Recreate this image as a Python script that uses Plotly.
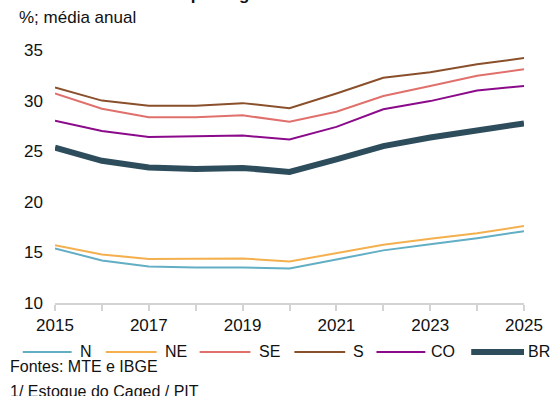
import plotly.graph_objects as go

# Annual averages, % (formal employment stock / working-age population)
years = list(range(2015, 2026))
regions = ["N", "NE", "SE", "S", "CO", "BR"]

n_vals = [15.4, 14.2, 13.6, 13.5, 13.5, 13.4, 14.3, 15.2, 15.8, 16.4, 17.1]
ne_vals = [15.7, 14.8, 14.35, 14.4, 14.4, 14.1, 14.9, 15.75, 16.35, 16.9, 17.6]
se_vals = [30.7, 29.2, 28.35, 28.35, 28.55, 27.9, 28.9, 30.45, 31.45, 32.45, 33.1]
s_vals = [31.3, 30.0, 29.5, 29.5, 29.75, 29.25, 30.7, 32.25, 32.8, 33.6, 34.2]
co_vals = [28.0, 27.0, 26.4, 26.5, 26.55, 26.15, 27.4, 29.15, 29.95, 31.0, 31.45]
br_vals = [25.35, 24.05, 23.4, 23.25, 23.35, 22.95, 24.2, 25.5, 26.35, 27.1, 27.75]

y_ticks = [10, 15, 20, 25, 30, 35]
x_ticks = [2015, 2017, 2019, 2021, 2023, 2025]

series = [n_vals, ne_vals, se_vals, s_vals, co_vals, br_vals]
colors = ["#62AEC5", "#F4B04E", "#E0706C", "#8A4F2B", "#8B0A8B", "#2E4D5C"]
widths = [2, 2, 2, 2, 2, 6]

W, H = 555, 396
L, R, T, B = 55, 20, 50, 93
plot_w = W - L - R
plot_h = H - T - B


def px_x(px):
    return (px - L) / plot_w


def px_y(py):
    return (H - B - py) / plot_h


FONT = "Liberation Sans, Arial, sans-serif"

fig = go.Figure()
for name, vals, col, w in zip(regions, series, colors, widths):
    fig.add_trace(go.Scatter(
        x=years, y=vals, mode="lines", name=name,
        line=dict(color=col, width=w), showlegend=False,
    ))

shapes = []
annotations = []

# legend row drawn below the axis: (line start, line end, label start) in px
legend_pos = [(22, 72, 79), (107, 159, 166), (203, 255, 262),
              (300, 352, 358), (384, 434, 438), (481, 535, 537)]
leg_y = 352
for name, col, w, (x0, x1, xt) in zip(regions, colors, widths, legend_pos):
    shapes.append(dict(type="line", xref="paper", yref="paper",
                       x0=px_x(x0), x1=px_x(x1), y0=px_y(leg_y), y1=px_y(leg_y),
                       line=dict(color=col, width=w)))
    annotations.append(dict(text=name, xref="paper", yref="paper",
                            x=px_x(xt), y=px_y(leg_y - 1), xanchor="left", yanchor="middle",
                            showarrow=False, font=dict(size=16, color="#111111", family=FONT)))

annotations += [
    dict(text="<b>Taxa de formalidade por região¹</b>", xref="paper", yref="paper",
         x=px_x(20), y=px_y(6), xanchor="left", yanchor="bottom", showarrow=False,
         font=dict(size=17, color="#111111", family=FONT)),
    dict(text="%; média anual", xref="paper", yref="paper",
         x=px_x(16), y=px_y(17), xanchor="left", yanchor="middle", showarrow=False,
         font=dict(size=17, color="#111111", family=FONT)),
    dict(text="Fontes: MTE e IBGE", xref="paper", yref="paper",
         x=px_x(7), y=px_y(367), xanchor="left", yanchor="middle", showarrow=False,
         font=dict(size=16, color="#111111", family=FONT)),
    dict(text="1/ Estoque do Caged / PIT", xref="paper", yref="paper",
         x=px_x(7), y=px_y(391), xanchor="left", yanchor="middle", showarrow=False,
         font=dict(size=16, color="#111111", family=FONT)),
]

fig.update_layout(
    width=W, height=H,
    margin=dict(l=L, r=R, t=T, b=B),
    paper_bgcolor="white", plot_bgcolor="white",
    font=dict(family=FONT, size=17, color="#111111"),
    shapes=shapes, annotations=annotations,
    showlegend=False,
)
fig.update_xaxes(
    range=[2015, 2025], tickmode="array", tickvals=years,
    ticktext=[str(y) if y in x_ticks else "" for y in years],
    showgrid=False, zeroline=False,
    showline=True, linecolor="#D3D3D3", linewidth=2,
    ticks="outside", ticklen=6, tickwidth=2, tickcolor="#D3D3D3",
    tickfont=dict(size=17, color="#111111"),
    ticklabeloverflow="allow",
)
fig.update_yaxes(
    range=[10, 35], tickmode="array", tickvals=y_ticks,
    showgrid=False, zeroline=False, showline=False,
    ticks="", ticklabelstandoff=11,
    tickfont=dict(size=17, color="#111111"),
)

fig.write_html("out.html")
